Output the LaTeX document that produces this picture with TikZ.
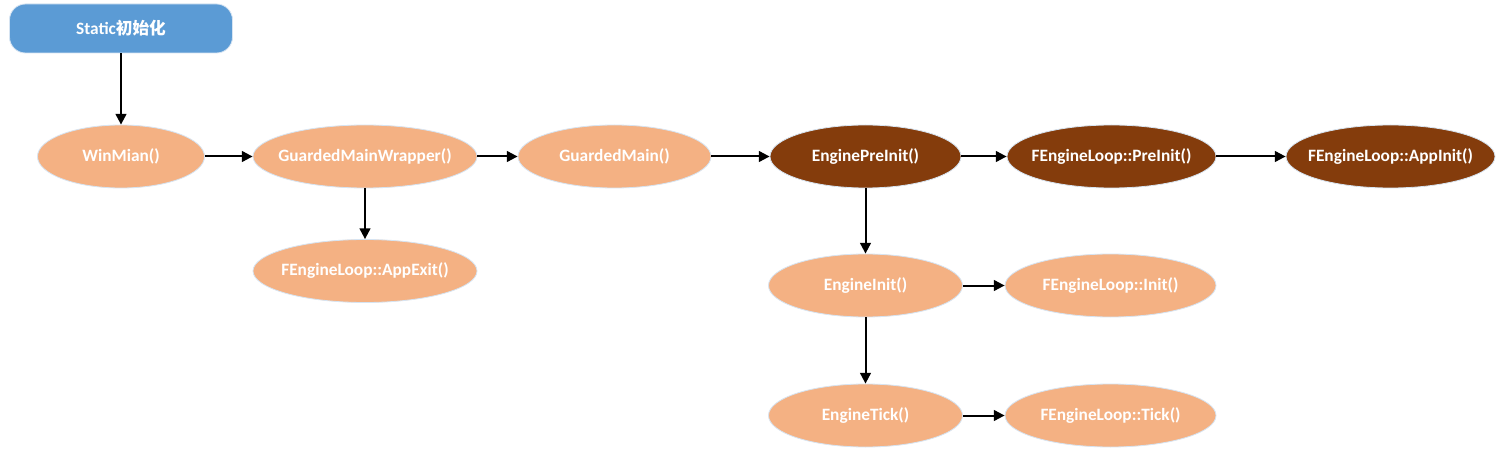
\documentclass[tikz,border=0pt]{standalone}
\usepackage{fontspec}
\setmainfont{Carlito}
\newfontfamily\cjk{Noto Sans CJK SC}
\usetikzlibrary{shapes.geometric,arrows.meta}
\definecolor{bluefill}{HTML}{5B9BD5}
\definecolor{orangefill}{HTML}{F4B183}
\definecolor{brownfill}{HTML}{843C0C}
\definecolor{edgeglow}{HTML}{D6E4F2}
\tikzset{
  func/.style={ellipse, fill=orangefill, draw=edgeglow, line width=0.6pt, inner xsep=-60pt, inner ysep=-10pt,
    minimum height=63*0.75pt, text=white, font=\bfseries\fontsize{13}{15}\selectfont},
  funcdark/.style={func, fill=brownfill},
  startbox/.style={rectangle, rounded corners=12pt, fill=bluefill, draw=edgeglow, line width=0.6pt,
    minimum width=223*0.75pt, minimum height=49*0.75pt, inner sep=0pt, text=white,
    font=\bfseries\fontsize{13}{15}\selectfont},
  flow/.style={-{Triangle[length=8pt,width=8pt]}, line width=1.5pt, black}
}
\begin{document}
\begin{tikzpicture}[x=0.75pt,y=-0.75pt]
\useasboundingbox[fill=white] (0,0) rectangle (1507,456);
\node[startbox] (static) at (121,28.5) {Static{\cjk\bfseries\fontsize{12.5}{15}\selectfont 初始化}};
\node[func, minimum width=167*0.75pt] (winmain) at (121,156.5) {WinMian()};
\node[func, minimum width=224*0.75pt] (gmw) at (365,156.5) {GuardedMainWrapper()};
\node[func, minimum width=193*0.75pt] (gm) at (614.5,156.5) {GuardedMain()};
\node[funcdark, minimum width=191*0.75pt] (epi) at (865.5,156.5) {EnginePreInit()};
\node[funcdark, minimum width=209*0.75pt] (flpi) at (1111.5,156.5) {FEngineLoop::PreInit()};
\node[funcdark, minimum width=209*0.75pt] (flai) at (1390.5,156.5) {FEngineLoop::AppInit()};
\node[func, minimum width=224*0.75pt] (flae) at (365,271) {FEngineLoop::AppExit()};
\node[func, minimum width=194*0.75pt] (ei) at (865.5,285.5) {EngineInit()};
\node[func, minimum width=211*0.75pt] (fli) at (1110.5,285.5) {FEngineLoop::Init()};
\node[func, minimum width=194*0.75pt] (et) at (865.5,415.5) {EngineTick()};
\node[func, minimum width=211*0.75pt] (flt) at (1110.5,415.5) {FEngineLoop::Tick()};
\draw[flow] (static) -- (winmain);
\draw[flow] (winmain) -- (gmw);
\draw[flow] (gmw) -- (gm);
\draw[flow] (gm) -- (epi);
\draw[flow] (epi) -- (flpi);
\draw[flow] (flpi) -- (flai);
\draw[flow] (gmw) -- (flae);
\draw[flow] (epi) -- (ei);
\draw[flow] (ei) -- (fli);
\draw[flow] (ei) -- (et);
\draw[flow] (et) -- (flt);
\end{tikzpicture}
\end{document}
